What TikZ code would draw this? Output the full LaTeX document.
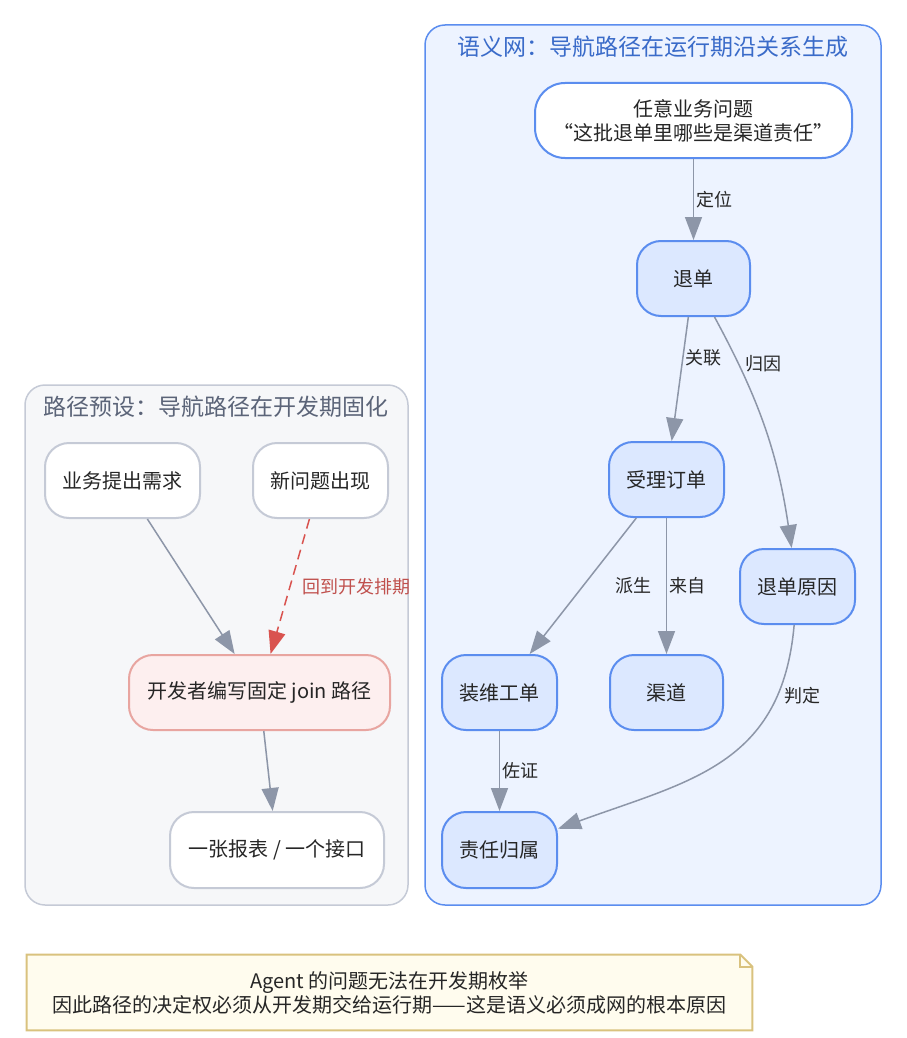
\documentclass[tikz,border=0pt]{standalone}
\usepackage{fontspec}
\setmainfont{Noto Sans CJK SC}
\usepackage{tikz}
\usetikzlibrary{shapes,arrows.meta}
\definecolor{edgegray}{HTML}{8D96A8}
\definecolor{graybd}{HTML}{C5CAD6}
\definecolor{grayfill}{HTML}{F6F7F9}
\definecolor{graytitle}{HTML}{5B6478}
\definecolor{bluebd}{HTML}{5B8DEF}
\definecolor{bluefill}{HTML}{DCE8FF}
\definecolor{bluebg}{HTML}{EDF3FF}
\definecolor{bluetitle}{HTML}{3A6BC9}
\definecolor{redbd}{HTML}{E8A5A0}
\definecolor{redfill}{HTML}{FDEFEF}
\definecolor{redline}{HTML}{D9534F}
\definecolor{redtext}{HTML}{C0504D}
\definecolor{notebd}{HTML}{D9C27E}
\definecolor{notefill}{HTML}{FFFCEE}
\tikzstyle{block} = [rectangle, draw, line width=1pt, align=center, rounded corners=12pt, minimum height=37.5pt, text=black!85, font=\fontsize{10}{12}\selectfont]
\tikzstyle{grayblock} = [block, draw=graybd, fill=white]
\tikzstyle{blueblock} = [block, draw=bluebd, fill=bluefill, minimum width=57.5pt]
\tikzstyle{cluster} = [rounded corners=10pt, line width=0.75pt]
\tikzstyle{title} = [font=\fontsize{11.5}{14}\selectfont]
\tikzstyle{line} = [draw, line width=0.75pt, edgegray, -{Triangle[length=11.5pt, width=8.5pt]}]
\tikzstyle{lbl} = [font=\fontsize{9}{11}\selectfont, text=black!85, inner sep=1pt]

\begin{document}
\begin{tikzpicture}[auto, x=25pt, y=25pt]
\useasboundingbox (0, 0) rectangle (18.12, -20.76);

% preset paths
\draw [cluster, draw=graybd, fill=grayfill] (0.5, -7.7) rectangle (8.16, -18.1);
\node [title, text=graytitle] at (4.32, -8.14) (presettitle) {路径预设：导航路径在开发期固化};

\node [grayblock, minimum width=77.5pt] at (2.45, -9.61) (biz) {业务提出需求};
\node [grayblock, minimum width=67.5pt] at (6.41, -9.61) (newq) {新问题出现};
\node [block, draw=redbd, fill=redfill, minimum width=130.5pt] at (5.19, -13.85) (dev) {开发者编写固定 join 路径};
\node [grayblock, minimum width=107pt, minimum height=38pt] at (5.54, -17.0) (report) {一张报表 / 一个接口};
\path [line] (biz) to (dev);
\path [line, redline, dash pattern=on 5pt off 3pt] (newq) to node [lbl, right=5pt, text=redtext] {回到开发排期} (dev);
\path [line] (dev) to (report);

% semantic net
\draw [cluster, draw=bluebd, fill=bluebg] (8.5, -0.5) rectangle (17.62, -18.1);
\node [title, text=bluetitle] at (13.06, -0.94) (nettitle) {语义网：导航路径在运行期沿关系生成};

\node [block, draw=bluebd, fill=white, minimum width=158.5pt, rounded corners=15pt] at (13.87, -2.41) (question) {任意业务问题\\“这批退单里哪些是渠道责任”};
\node [blueblock, minimum width=56.5pt] at (13.87, -5.57) (refund) {退单};
\node [blueblock] at (13.33, -9.59) (order) {受理订单};
\node [blueblock] at (15.95, -11.73) (reason) {退单原因};
\node [blueblock] at (9.99, -13.85) (install) {装维工单};
\node [blueblock, minimum width=56.5pt] at (13.33, -13.85) (channel) {渠道};
\node [blueblock, minimum height=38pt] at (9.99, -17.0) (duty) {责任归属};

\path [line] (question) to node [lbl, right=0pt] {定位} (refund);
\path [line] (refund) to node [lbl, pos=0.33, right=0pt] {关联} (order);
\path [line] (refund) to [bend left=10] node [lbl, pos=0.2, right=2pt] {归因} (reason);
\path [line] (order) to node [lbl, right=15pt] {派生} (install);
\path [line] (order) to node [lbl, right=0pt] {来自} (channel);
\path [line] (install) to node [lbl, right=0pt] {佐证} (duty);
\path [line] (reason) to [out=-95, in=20, looseness=1.15] node [lbl, pos=0.2, right=2pt] {判定} (duty);

% note
\node [fill=notefill, align=center, minimum width=362.5pt, minimum height=37.5pt, font=\fontsize{10}{12}\selectfont, text=black!85] at (7.79, -19.85) (note) {Agent 的问题无法在开发期枚举\\因此路径的决定权必须从开发期交给运行期——这是语义必须成网的根本原因};
\fill [white] ([xshift=-6pt]note.north east) -- (note.north east) -- ([yshift=-6pt]note.north east) -- cycle;
\draw [notebd, line width=1pt] (note.south west) -- (note.north west) -- ([xshift=-6pt]note.north east) -- ([yshift=-6pt]note.north east) -- (note.south east) -- cycle;
\draw [notebd, line width=1pt] ([xshift=-6pt]note.north east) -- ([xshift=-6pt, yshift=-6pt]note.north east) -- ([yshift=-6pt]note.north east);

\end{tikzpicture}
\end{document}
